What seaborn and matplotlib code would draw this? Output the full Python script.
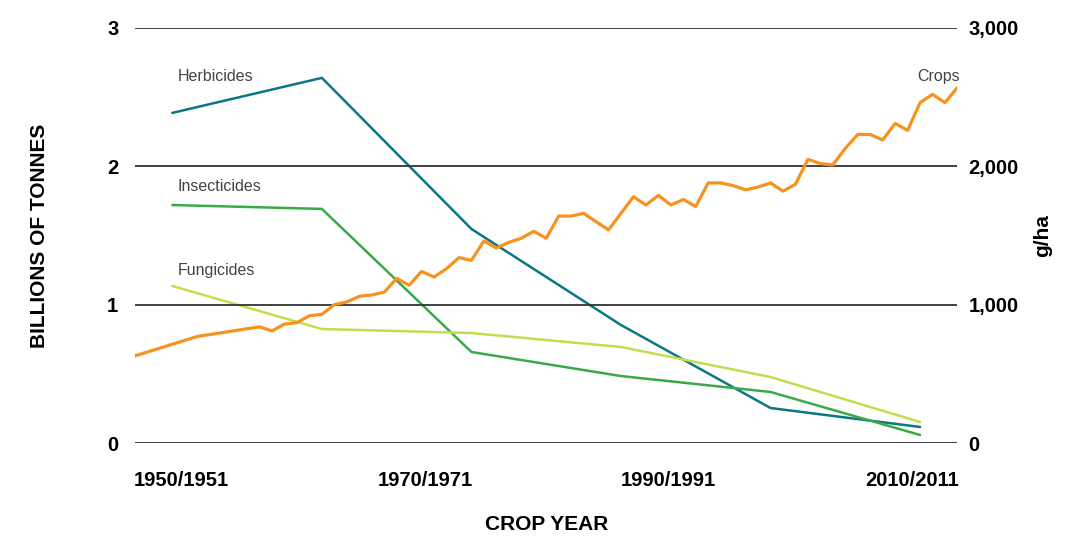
import numpy as np
import pandas as pd
import matplotlib
matplotlib.use("Agg")
import matplotlib.pyplot as plt
import seaborn as sns

# crop production, billions of tonnes (left axis)
crop_years = [1950, 1955] + list(range(1960, 2017))
crop_values = [0.63, 0.77,
               0.84, 0.81, 0.86, 0.87, 0.92, 0.93, 1.00, 1.02, 1.06, 1.07,
               1.09, 1.19, 1.14, 1.24, 1.20, 1.26, 1.34, 1.32, 1.46, 1.41,
               1.45, 1.48, 1.53, 1.48, 1.64, 1.64, 1.66, 1.60, 1.54, 1.66,
               1.78, 1.72, 1.79, 1.72, 1.76, 1.71, 1.88, 1.88, 1.86, 1.83,
               1.85, 1.88, 1.82, 1.87, 2.05, 2.02, 2.01, 2.13, 2.23, 2.23,
               2.19, 2.31, 2.26, 2.46, 2.52, 2.46, 2.57]

# pesticide use, g/ha (right axis)
pest_years = [1953, 1965, 1977, 1989, 2001, 2013]
herbicides = [2386, 2639, 1547, 853, 253, 116]
insecticides = [1720, 1692, 658, 484, 369, 58]
fungicides = [1135, 824, 795, 694, 477, 152]

series_names = ["Herbicides", "Insecticides", "Fungicides"]
series_colors = ["#0b7784", "#3aaa48", "#c4dc50"]
crop_color = "#f6921e"

tick_labels = ["1950/1951", "1970/1971", "1990/1991", "2010/2011"]

crops = pd.DataFrame({"year": crop_years, "value": crop_values})
pest = pd.DataFrame({
    "year": pest_years * 3,
    "value": herbicides + insecticides + fungicides,
    "type": np.repeat(series_names, len(pest_years)),
})

sns.set_style("white")
plt.rcParams["font.family"] = ["Liberation Sans", "DejaVu Sans"]
plt.rcParams["text.color"] = "black"
plt.rcParams["axes.labelcolor"] = "black"
plt.rcParams["xtick.color"] = "black"
plt.rcParams["ytick.color"] = "black"

fig = plt.figure(figsize=(10.71, 5.37), dpi=100)
ax = fig.add_axes([0.126, 0.175, 0.768, 0.773])
ax2 = ax.twinx()

for y in [0, 1, 2, 3]:
    ax.axhline(y, color="#333333", lw=1.3, zorder=0)

# pesticides on the right scale
sns.lineplot(data=pest, x="year", y="value", hue="type",
             palette=dict(zip(series_names, series_colors)),
             linewidth=1.8, legend=False, ax=ax2)

# crops on the left scale, drawn on top
sns.lineplot(data=crops, x="year", y="value", color=crop_color,
             linewidth=2.3, ax=ax)
ax.set_zorder(ax2.get_zorder() + 1)
ax.patch.set_visible(False)

ax.set_xlim(1950, 2016)
ax.set_ylim(0, 3)
ax2.set_ylim(0, 3000)

ax.set_yticks([0, 1, 2, 3])
ax.set_yticklabels(["0", "1", "2", "3"])
ax2.set_yticks([0, 1000, 2000, 3000])
ax2.set_yticklabels(["0", "1,000", "2,000", "3,000"])
ax.set_xticks([1953.7, 1973.3, 1992.8, 2012.4])
ax.set_xticklabels(tick_labels)

ax.tick_params(axis="y", length=0, pad=12, labelsize=14.5, labelcolor="black")
ax.tick_params(axis="x", length=0, pad=20, labelsize=14.5, labelcolor="black")
ax2.tick_params(axis="y", length=0, pad=8, labelsize=14.5, labelcolor="black")
for lab in ax.get_xticklabels() + ax.get_yticklabels() + ax2.get_yticklabels():
    lab.set_fontweight("bold")

ax.set_xlabel("CROP YEAR", fontsize=15, fontweight="bold", labelpad=18, color="black")
ax.set_ylabel("BILLIONS OF TONNES", fontsize=15, fontweight="bold", labelpad=42, color="black")
ax2.set_ylabel("g/ha", fontsize=15, fontweight="bold", labelpad=10, color="black")

for a in (ax, ax2):
    for s in a.spines.values():
        s.set_visible(False)
    a.grid(False)

# series labels
lab_kw = dict(fontsize=11.5, color="#444444", va="center")
ax2.text(1953.4, 2650, "Herbicides", **lab_kw)
ax2.text(1953.4, 1855, "Insecticides", **lab_kw)
ax2.text(1953.4, 1245, "Fungicides", **lab_kw)
ax.text(2016.2, 2.65, "Crops", ha="right", **lab_kw)

fig.savefig("out.png", dpi=100)
